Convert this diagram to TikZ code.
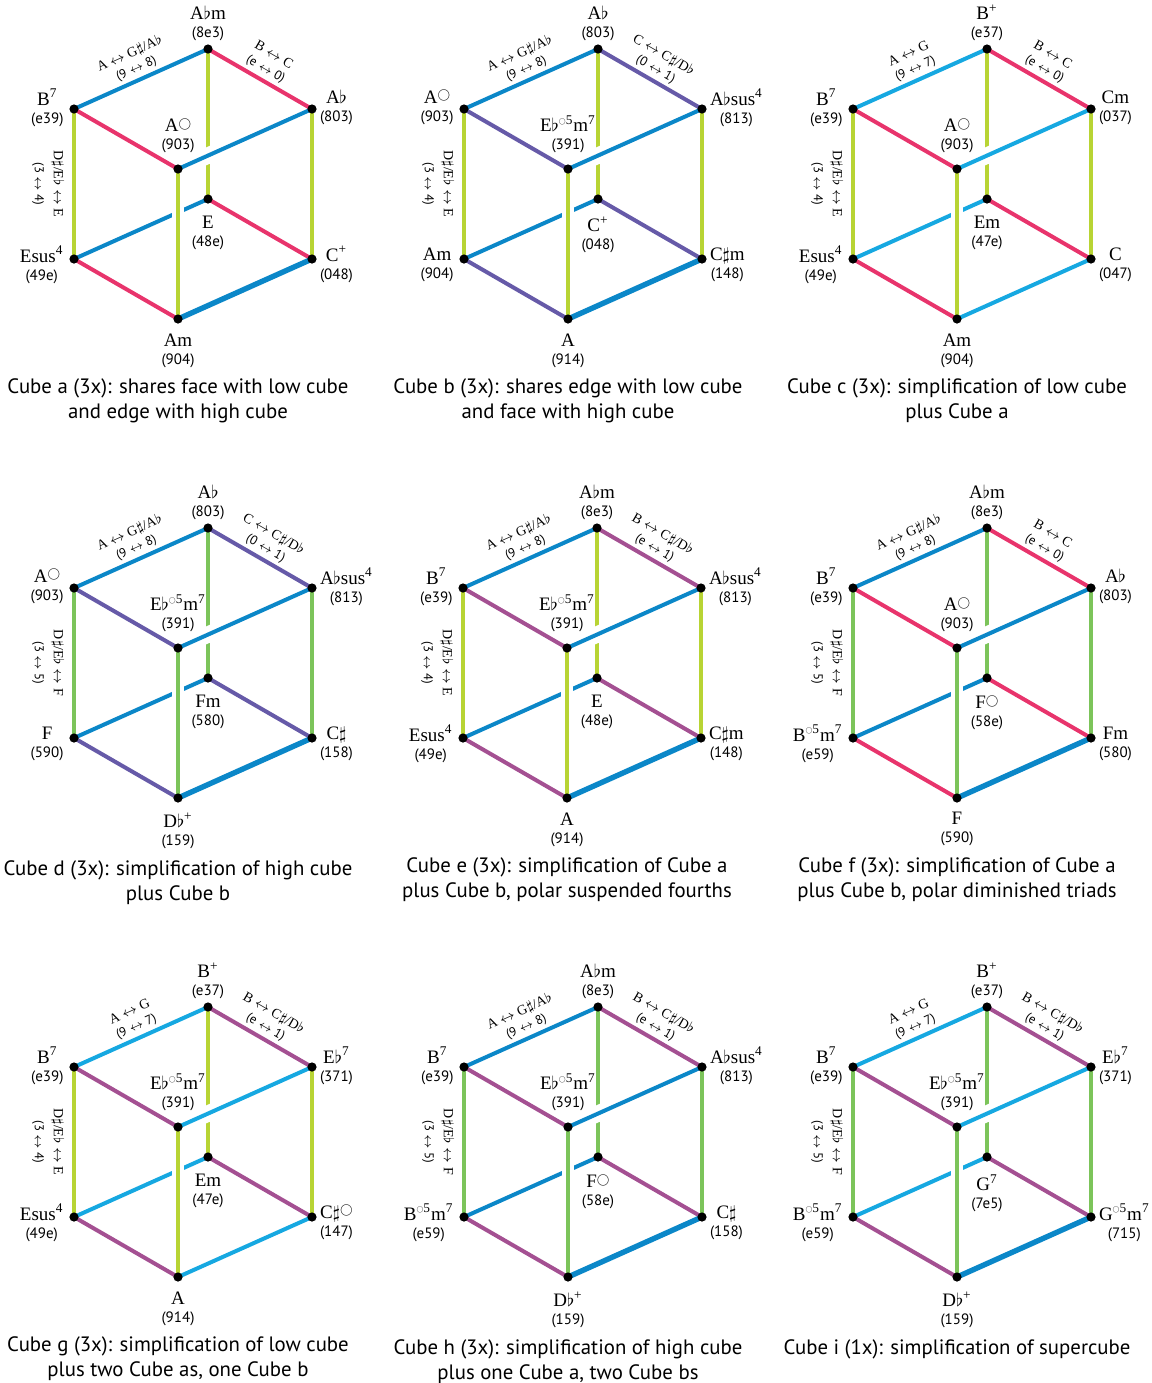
\documentclass[tikz,border=0pt]{standalone}
\usepackage{fontspec}
\usepackage{graphicx}
\setmainfont{Liberation Serif}
\setsansfont{PT Sans}
\usetikzlibrary{positioning}
\definecolor{CubeBlue}{RGB}{11,135,200}
\definecolor{CubeSky}{RGB}{22,168,225}
\definecolor{CubePink}{RGB}{232,52,108}
\definecolor{CubePurple}{RGB}{102,90,168}
\definecolor{CubePlum}{RGB}{164,80,146}
\definecolor{CubeLime}{RGB}{184,212,52}
\definecolor{CubeGreen}{RGB}{124,196,90}
\pgfdeclarelayer{edges}
\pgfsetlayers{edges,main}
\newcommand{\flt}{\ensuremath{\flat}}
\newcommand{\shp}{\ensuremath{\sharp}}
\newcommand{\swap}{\ensuremath{\leftrightarrow}}
\newcommand{\dimc}{\raisebox{.5ex}{\scalebox{.68}{\ensuremath{\bigcirc}}}}
\newcommand{\hdimc}{\raisebox{.95ex}{\scalebox{.37}{\ensuremath{\bigcirc}}}}
\newcommand{\ch}[2]{{\rmfamily\fontsize{9.5}{9}\selectfont #1}\\#2}
\newcommand{\el}[2]{#1\\{\sffamily\fontsize{6.4}{8}\selectfont #2}}
\newcommand{\elv}[2]{#1\\[1.5pt]{\sffamily\fontsize{6.4}{8}\selectfont #2}}
\tikzset{
  cube/dot/.style={circle, fill=black, inner sep=0pt, outer sep=0pt, minimum size=4.6pt},
  cube/edge/.style={line width=2pt},
  cube/bold/.style={line width=2.7pt},
  cube/gap/.style={draw=white, line width=#1, shorten <=9pt, shorten >=9pt},
  cube/chord/.style={align=center, inner sep=1pt, font=\sffamily\fontsize{7.5}{9}\selectfont},
  cube/elabel/.style={align=center, inner sep=1pt, inner ysep=2.3pt, font=\rmfamily\fontsize{7}{8}\selectfont},
  cube/caption/.style={align=center, inner sep=1pt, font=\sffamily\fontsize{10.4}{12.5}\selectfont}
}
% #1 name, #2 shift, #3 x edges, #4 y edges, #5 z edges, #6 front bottom edge
\newcommand{\cubeframe}[6]{%
  \begin{scope}[shift={#2}]
    \node[cube/dot] (#1T)   at (208,49)  {};
    \node[cube/dot] (#1UL)  at (74,109)  {};
    \node[cube/dot] (#1UR)  at (312,109) {};
    \node[cube/dot] (#1F)   at (178,169) {};
    \node[cube/dot] (#1B)   at (208,199) {};
    \node[cube/dot] (#1LL)  at (74,259)  {};
    \node[cube/dot] (#1LR)  at (312,259) {};
    \node[cube/dot] (#1Bot) at (178,319) {};
  \end{scope}
  \begin{pgfonlayer}{edges}
    % hidden edges
    \draw[cube/edge,#5] (#1T.center) -- (#1B.center);
    \draw[cube/edge,#3] (#1B.center) -- (#1LL.center);
    \draw[cube/edge,#4] (#1B.center) -- (#1LR.center);
    % front edges, cut out of the hidden ones
    \draw[cube/gap=8.2pt] (#1F.center) -- (#1UR.center);
    \draw[cube/edge,#3] (#1F.center) -- (#1UR.center);
    \draw[cube/gap=5.8pt] (#1F.center) -- (#1Bot.center);
    \draw[cube/edge,#5] (#1F.center) -- (#1Bot.center);
    \draw[cube/edge,#3] (#1UL.center) -- (#1T.center);
    \draw[cube/edge,#4] (#1T.center) -- (#1UR.center);
    \draw[cube/edge,#5] (#1UL.center) -- (#1LL.center);
    \draw[cube/edge,#5] (#1UR.center) -- (#1LR.center);
    \draw[cube/edge,#4] (#1UL.center) -- (#1F.center);
    \draw[cube/edge,#4] (#1LL.center) -- (#1Bot.center);
    \draw[#6] (#1Bot.center) -- (#1LR.center);
  \end{pgfonlayer}}

\begin{document}
\begin{tikzpicture}[x=0.5pt,y=-0.5pt]
  \useasboundingbox (0,0) rectangle (1152,1383);

  % Cube a
  \cubeframe{a}{(0,0)}{CubeBlue}{CubePink}{CubeLime}{cube/bold,CubeBlue}
  \node[cube/chord, above=0.5pt of aT] (aTl) {\ch{A\flt m}{(8e3)}};
  \node[cube/chord, left=1.75pt of aUL, yshift=0.75pt] (aULl) {\ch{B\textsuperscript{7}}{(e39)}};
  \node[cube/chord, right=0.5pt of aUR, yshift=0.75pt] (aURl) {\ch{A\flt}{(803)}};
  \node[cube/chord, above=4.5pt of aF] (aFl) {\ch{A\dimc}{(903)}};
  \node[cube/chord, below=5.25pt of aB] (aBl) {\ch{E}{(48e)}};
  \node[cube/chord, left=1.75pt of aLL, yshift=-2.75pt] (aLLl) {\ch{Esus\textsuperscript{4}}{(49e)}};
  \node[cube/chord, right=0.5pt of aLR, yshift=-2.75pt] (aLRl) {\ch{C\textsuperscript{+}}{(048)}};
  \node[cube/chord, below=3.75pt of aBot] (aBotl) {\ch{Am}{(904)}};
  \path (aUL) -- node[cube/elabel, sloped, above] (aXl) {\el{A \swap{} G\shp/A\flt}{(9 \swap{} 8)}} (aT);
  \path (aT) -- node[cube/elabel, sloped, above] (aYl) {\el{B \swap{} C}{(e \swap{} 0)}} (aUR);
  \path (aUL) -- node[cube/elabel, rotate=-90, anchor=north, inner ysep=4.6pt] (aZl) {\elv{D\shp/E\flt{} \swap{} E}{(3 \swap{} 4)}} (aLL);
  \node[cube/caption, below=3.5pt of aBotl] (aCap) {Cube a (3x): shares face with low cube\\and edge with high cube};

  % Cube b
  \cubeframe{b}{(390,0)}{CubeBlue}{CubePurple}{CubeLime}{cube/bold,CubeBlue}
  \node[cube/chord, above=0.5pt of bT] (bTl) {\ch{A\flt}{(803)}};
  \node[cube/chord, left=1.75pt of bUL, yshift=0.75pt] (bULl) {\ch{A\dimc}{(903)}};
  \node[cube/chord, right=0.5pt of bUR, yshift=0.75pt] (bURl) {\ch{A\flt sus\textsuperscript{4}}{(813)}};
  \node[cube/chord, above=4.5pt of bF] (bFl) {\ch{E\flt\hdimc\textsuperscript{5}m\textsuperscript{7}}{(391)}};
  \node[cube/chord, below=5.25pt of bB] (bBl) {\ch{C\textsuperscript{+}}{(048)}};
  \node[cube/chord, left=1.75pt of bLL, yshift=-2.75pt] (bLLl) {\ch{Am}{(904)}};
  \node[cube/chord, right=0.5pt of bLR, yshift=-2.75pt] (bLRl) {\ch{C\shp m}{(148)}};
  \node[cube/chord, below=3.75pt of bBot] (bBotl) {\ch{A}{(914)}};
  \path (bUL) -- node[cube/elabel, sloped, above] (bXl) {\el{A \swap{} G\shp/A\flt}{(9 \swap{} 8)}} (bT);
  \path (bT) -- node[cube/elabel, sloped, above] (bYl) {\el{C \swap{} C\shp/D\flt}{(0 \swap{} 1)}} (bUR);
  \path (bUL) -- node[cube/elabel, rotate=-90, anchor=north, inner ysep=4.6pt] (bZl) {\elv{D\shp/E\flt{} \swap{} E}{(3 \swap{} 4)}} (bLL);
  \node[cube/caption, below=3.5pt of bBotl] (bCap) {Cube b (3x): shares edge with low cube\\and face with high cube};

  % Cube c
  \cubeframe{c}{(779,0)}{CubeSky}{CubePink}{CubeLime}{cube/edge,CubeSky}
  \node[cube/chord, above=0.5pt of cT] (cTl) {\ch{B\textsuperscript{+}}{(e37)}};
  \node[cube/chord, left=1.75pt of cUL, yshift=0.75pt] (cULl) {\ch{B\textsuperscript{7}}{(e39)}};
  \node[cube/chord, right=0.5pt of cUR, yshift=0.75pt] (cURl) {\ch{Cm}{(037)}};
  \node[cube/chord, above=4.5pt of cF] (cFl) {\ch{A\dimc}{(903)}};
  \node[cube/chord, below=5.25pt of cB] (cBl) {\ch{Em}{(47e)}};
  \node[cube/chord, left=1.75pt of cLL, yshift=-2.75pt] (cLLl) {\ch{Esus\textsuperscript{4}}{(49e)}};
  \node[cube/chord, right=0.5pt of cLR, yshift=-2.75pt] (cLRl) {\ch{C}{(047)}};
  \node[cube/chord, below=3.75pt of cBot] (cBotl) {\ch{Am}{(904)}};
  \path (cUL) -- node[cube/elabel, sloped, above] (cXl) {\el{A \swap{} G}{(9 \swap{} 7)}} (cT);
  \path (cT) -- node[cube/elabel, sloped, above] (cYl) {\el{B \swap{} C}{(e \swap{} 0)}} (cUR);
  \path (cUL) -- node[cube/elabel, rotate=-90, anchor=north, inner ysep=4.6pt] (cZl) {\elv{D\shp/E\flt{} \swap{} E}{(3 \swap{} 4)}} (cLL);
  \node[cube/caption, below=3.5pt of cBotl] (cCap) {Cube c (3x): simplification of low cube\\plus Cube a};

  % Cube d
  \cubeframe{d}{(0,479)}{CubeBlue}{CubePurple}{CubeGreen}{cube/bold,CubeBlue}
  \node[cube/chord, above=0.5pt of dT] (dTl) {\ch{A\flt}{(803)}};
  \node[cube/chord, left=1.75pt of dUL, yshift=0.75pt] (dULl) {\ch{A\dimc}{(903)}};
  \node[cube/chord, right=0.5pt of dUR, yshift=0.75pt] (dURl) {\ch{A\flt sus\textsuperscript{4}}{(813)}};
  \node[cube/chord, above=4.5pt of dF] (dFl) {\ch{E\flt\hdimc\textsuperscript{5}m\textsuperscript{7}}{(391)}};
  \node[cube/chord, below=5.25pt of dB] (dBl) {\ch{Fm}{(580)}};
  \node[cube/chord, left=1.75pt of dLL, yshift=-2.75pt] (dLLl) {\ch{F}{(590)}};
  \node[cube/chord, right=0.5pt of dLR, yshift=-2.75pt] (dLRl) {\ch{C\shp}{(158)}};
  \node[cube/chord, below=3.75pt of dBot] (dBotl) {\ch{D\flt\textsuperscript{+}}{(159)}};
  \path (dUL) -- node[cube/elabel, sloped, above] (dXl) {\el{A \swap{} G\shp/A\flt}{(9 \swap{} 8)}} (dT);
  \path (dT) -- node[cube/elabel, sloped, above] (dYl) {\el{C \swap{} C\shp/D\flt}{(0 \swap{} 1)}} (dUR);
  \path (dUL) -- node[cube/elabel, rotate=-90, anchor=north, inner ysep=4.6pt] (dZl) {\elv{D\shp/E\flt{} \swap{} F}{(3 \swap{} 5)}} (dLL);
  \node[cube/caption, below=3.5pt of dBotl] (dCap) {Cube d (3x): simplification of high cube\\plus Cube b};

  % Cube e
  \cubeframe{e}{(389,479)}{CubeBlue}{CubePlum}{CubeLime}{cube/bold,CubeBlue}
  \node[cube/chord, above=0.5pt of eT] (eTl) {\ch{A\flt m}{(8e3)}};
  \node[cube/chord, left=1.75pt of eUL, yshift=0.75pt] (eULl) {\ch{B\textsuperscript{7}}{(e39)}};
  \node[cube/chord, right=0.5pt of eUR, yshift=0.75pt] (eURl) {\ch{A\flt sus\textsuperscript{4}}{(813)}};
  \node[cube/chord, above=4.5pt of eF] (eFl) {\ch{E\flt\hdimc\textsuperscript{5}m\textsuperscript{7}}{(391)}};
  \node[cube/chord, below=5.25pt of eB] (eBl) {\ch{E}{(48e)}};
  \node[cube/chord, left=1.75pt of eLL, yshift=-2.75pt] (eLLl) {\ch{Esus\textsuperscript{4}}{(49e)}};
  \node[cube/chord, right=0.5pt of eLR, yshift=-2.75pt] (eLRl) {\ch{C\shp m}{(148)}};
  \node[cube/chord, below=3.75pt of eBot] (eBotl) {\ch{A}{(914)}};
  \path (eUL) -- node[cube/elabel, sloped, above] (eXl) {\el{A \swap{} G\shp/A\flt}{(9 \swap{} 8)}} (eT);
  \path (eT) -- node[cube/elabel, sloped, above] (eYl) {\el{B \swap{} C\shp/D\flt}{(e \swap{} 1)}} (eUR);
  \path (eUL) -- node[cube/elabel, rotate=-90, anchor=north, inner ysep=4.6pt] (eZl) {\elv{D\shp/E\flt{} \swap{} E}{(3 \swap{} 4)}} (eLL);
  \node[cube/caption, below=3.5pt of eBotl] (eCap) {Cube e (3x): simplification of Cube a\\plus Cube b, polar suspended fourths};

  % Cube f
  \cubeframe{f}{(779,479)}{CubeBlue}{CubePink}{CubeGreen}{cube/bold,CubeBlue}
  \node[cube/chord, above=0.5pt of fT] (fTl) {\ch{A\flt m}{(8e3)}};
  \node[cube/chord, left=1.75pt of fUL, yshift=0.75pt] (fULl) {\ch{B\textsuperscript{7}}{(e39)}};
  \node[cube/chord, right=0.5pt of fUR, yshift=0.75pt] (fURl) {\ch{A\flt}{(803)}};
  \node[cube/chord, above=4.5pt of fF] (fFl) {\ch{A\dimc}{(903)}};
  \node[cube/chord, below=5.25pt of fB] (fBl) {\ch{F\dimc}{(58e)}};
  \node[cube/chord, left=1.75pt of fLL, yshift=-2.75pt] (fLLl) {\ch{B\hdimc\textsuperscript{5}m\textsuperscript{7}}{(e59)}};
  \node[cube/chord, right=0.5pt of fLR, yshift=-2.75pt] (fLRl) {\ch{Fm}{(580)}};
  \node[cube/chord, below=3.75pt of fBot] (fBotl) {\ch{F}{(590)}};
  \path (fUL) -- node[cube/elabel, sloped, above] (fXl) {\el{A \swap{} G\shp/A\flt}{(9 \swap{} 8)}} (fT);
  \path (fT) -- node[cube/elabel, sloped, above] (fYl) {\el{B \swap{} C}{(e \swap{} 0)}} (fUR);
  \path (fUL) -- node[cube/elabel, rotate=-90, anchor=north, inner ysep=4.6pt] (fZl) {\elv{D\shp/E\flt{} \swap{} F}{(3 \swap{} 5)}} (fLL);
  \node[cube/caption, below=3.5pt of fBotl] (fCap) {Cube f (3x): simplification of Cube a\\plus Cube b, polar diminished triads};

  % Cube g
  \cubeframe{g}{(0,958)}{CubeSky}{CubePlum}{CubeLime}{cube/edge,CubeSky}
  \node[cube/chord, above=0.5pt of gT] (gTl) {\ch{B\textsuperscript{+}}{(e37)}};
  \node[cube/chord, left=1.75pt of gUL, yshift=0.75pt] (gULl) {\ch{B\textsuperscript{7}}{(e39)}};
  \node[cube/chord, right=0.5pt of gUR, yshift=0.75pt] (gURl) {\ch{E\flt\textsuperscript{7}}{(371)}};
  \node[cube/chord, above=4.5pt of gF] (gFl) {\ch{E\flt\hdimc\textsuperscript{5}m\textsuperscript{7}}{(391)}};
  \node[cube/chord, below=5.25pt of gB] (gBl) {\ch{Em}{(47e)}};
  \node[cube/chord, left=1.75pt of gLL, yshift=-2.75pt] (gLLl) {\ch{Esus\textsuperscript{4}}{(49e)}};
  \node[cube/chord, right=0.5pt of gLR, yshift=-2.75pt] (gLRl) {\ch{C\shp\dimc}{(147)}};
  \node[cube/chord, below=3.75pt of gBot] (gBotl) {\ch{A}{(914)}};
  \path (gUL) -- node[cube/elabel, sloped, above] (gXl) {\el{A \swap{} G}{(9 \swap{} 7)}} (gT);
  \path (gT) -- node[cube/elabel, sloped, above] (gYl) {\el{B \swap{} C\shp/D\flt}{(e \swap{} 1)}} (gUR);
  \path (gUL) -- node[cube/elabel, rotate=-90, anchor=north, inner ysep=4.6pt] (gZl) {\elv{D\shp/E\flt{} \swap{} E}{(3 \swap{} 4)}} (gLL);
  \node[cube/caption, below=3.5pt of gBotl] (gCap) {Cube g (3x): simplification of low cube\\plus two Cube as, one Cube b};

  % Cube h
  \cubeframe{h}{(390,958)}{CubeBlue}{CubePlum}{CubeGreen}{cube/bold,CubeBlue}
  \node[cube/chord, above=0.5pt of hT] (hTl) {\ch{A\flt m}{(8e3)}};
  \node[cube/chord, left=1.75pt of hUL, yshift=0.75pt] (hULl) {\ch{B\textsuperscript{7}}{(e39)}};
  \node[cube/chord, right=0.5pt of hUR, yshift=0.75pt] (hURl) {\ch{A\flt sus\textsuperscript{4}}{(813)}};
  \node[cube/chord, above=4.5pt of hF] (hFl) {\ch{E\flt\hdimc\textsuperscript{5}m\textsuperscript{7}}{(391)}};
  \node[cube/chord, below=5.25pt of hB] (hBl) {\ch{F\dimc}{(58e)}};
  \node[cube/chord, left=1.75pt of hLL, yshift=-2.75pt] (hLLl) {\ch{B\hdimc\textsuperscript{5}m\textsuperscript{7}}{(e59)}};
  \node[cube/chord, right=0.5pt of hLR, yshift=-2.75pt] (hLRl) {\ch{C\shp}{(158)}};
  \node[cube/chord, below=3.75pt of hBot] (hBotl) {\ch{D\flt\textsuperscript{+}}{(159)}};
  \path (hUL) -- node[cube/elabel, sloped, above] (hXl) {\el{A \swap{} G\shp/A\flt}{(9 \swap{} 8)}} (hT);
  \path (hT) -- node[cube/elabel, sloped, above] (hYl) {\el{B \swap{} C\shp/D\flt}{(e \swap{} 1)}} (hUR);
  \path (hUL) -- node[cube/elabel, rotate=-90, anchor=north, inner ysep=4.6pt] (hZl) {\elv{D\shp/E\flt{} \swap{} F}{(3 \swap{} 5)}} (hLL);
  \node[cube/caption, below=3.5pt of hBotl] (hCap) {Cube h (3x): simplification of high cube\\plus one Cube a, two Cube bs};

  % Cube i
  \cubeframe{i}{(779,958)}{CubeSky}{CubePlum}{CubeGreen}{cube/bold,CubeBlue}
  \node[cube/chord, above=0.5pt of iT] (iTl) {\ch{B\textsuperscript{+}}{(e37)}};
  \node[cube/chord, left=1.75pt of iUL, yshift=0.75pt] (iULl) {\ch{B\textsuperscript{7}}{(e39)}};
  \node[cube/chord, right=0.5pt of iUR, yshift=0.75pt] (iURl) {\ch{E\flt\textsuperscript{7}}{(371)}};
  \node[cube/chord, above=4.5pt of iF] (iFl) {\ch{E\flt\hdimc\textsuperscript{5}m\textsuperscript{7}}{(391)}};
  \node[cube/chord, below=5.25pt of iB] (iBl) {\ch{G\textsuperscript{7}}{(7e5)}};
  \node[cube/chord, left=1.75pt of iLL, yshift=-2.75pt] (iLLl) {\ch{B\hdimc\textsuperscript{5}m\textsuperscript{7}}{(e59)}};
  \node[cube/chord, right=0.5pt of iLR, yshift=-2.75pt] (iLRl) {\ch{G\hdimc\textsuperscript{5}m\textsuperscript{7}}{(715)}};
  \node[cube/chord, below=3.75pt of iBot] (iBotl) {\ch{D\flt\textsuperscript{+}}{(159)}};
  \path (iUL) -- node[cube/elabel, sloped, above] (iXl) {\el{A \swap{} G}{(9 \swap{} 7)}} (iT);
  \path (iT) -- node[cube/elabel, sloped, above] (iYl) {\el{B \swap{} C\shp/D\flt}{(e \swap{} 1)}} (iUR);
  \path (iUL) -- node[cube/elabel, rotate=-90, anchor=north, inner ysep=4.6pt] (iZl) {\elv{D\shp/E\flt{} \swap{} F}{(3 \swap{} 5)}} (iLL);
  \node[cube/caption, below=3.5pt of iBotl] (iCap) {Cube i (1x): simplification of supercube};
\end{tikzpicture}
\end{document}
